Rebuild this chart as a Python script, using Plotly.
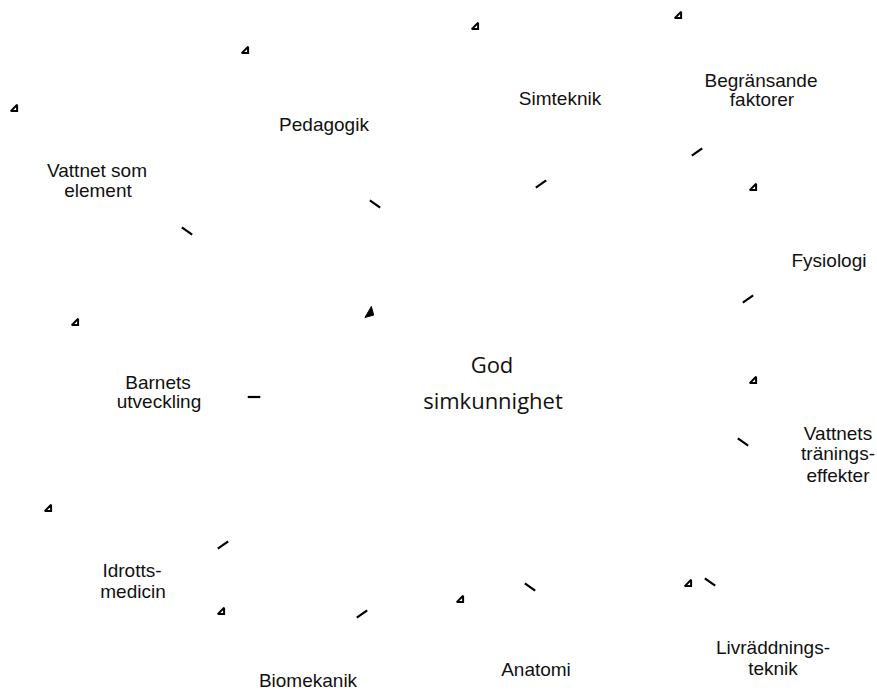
import plotly.graph_objects as go

# Topic labels (one entry per text line) around the central concept
label_lines = ["Pedagogik", "Simteknik", "Begränsande", "faktorer",
               "Vattnet som", "element", "Fysiologi",
               "Barnets", "utveckling",
               "Vattnets", "tränings-", "effekter",
               "Idrotts-", "medicin", "Biomekanik", "Anatomi",
               "Livräddnings-", "teknik"]
line_x = [324, 560, 761, 762, 97, 98, 829, 158, 159, 838, 838, 838,
          132, 133, 308, 536, 773, 773]
line_y = [126, 100, 82, 101, 172, 192, 262, 384, 403, 435, 455, 477,
          572, 593, 682, 671, 649, 670]

center_lines = ["God", "simkunnighet"]
center_x = [492, 493]
center_y = [367, 403]

# Arrow heads (small right triangles)
head_x = [246, 15, 476, 679, 754, 76, 754, 49, 222, 461, 689]
head_y = [51, 109, 27, 16, 188, 323, 381, 509, 612, 600, 584]

# Arrow tails (short strokes) and their tilt in degrees
tail_x = [187, 375, 541, 697, 748, 743, 254, 223, 362, 530, 710]
tail_y = [231, 204, 184, 152, 299, 442, 397, 545, 614, 587, 582]
tail_angle = [35, 35, -35, -35, -35, 35, 0, -35, -35, 35, 35]

# Central blob
blob_x = [370]
blob_y = [313]

fig = go.Figure()

fig.add_trace(go.Scatter(
    x=line_x, y=line_y, text=label_lines, mode="text",
    textposition="middle center", cliponaxis=False,
    textfont=dict(family="Liberation Sans, Arial", size=19, color="#111111"),
    hoverinfo="skip"))

fig.add_trace(go.Scatter(
    x=center_x, y=center_y, text=center_lines, mode="text",
    textposition="middle center", cliponaxis=False,
    textfont=dict(family="Open Sans", size=22, color="#111111"),
    hoverinfo="skip"))

fig.add_trace(go.Scatter(
    x=head_x, y=head_y, mode="markers", cliponaxis=False,
    marker=dict(symbol="triangle-se-open", size=7, color="black",
                line=dict(color="black", width=2)),
    hoverinfo="skip"))

fig.add_trace(go.Scatter(
    x=tail_x, y=tail_y, mode="markers", cliponaxis=False,
    marker=dict(symbol="line-ew-open", size=9, angle=tail_angle, color="black",
                line=dict(color="black", width=2.2)),
    hoverinfo="skip"))

fig.add_trace(go.Scatter(
    x=blob_x, y=blob_y, mode="markers", cliponaxis=False,
    marker=dict(symbol="triangle-se", size=10, color="black", angle=-15,
                line=dict(color="black", width=1)),
    hoverinfo="skip"))

fig.update_layout(
    width=877, height=693,
    margin=dict(l=0, r=0, t=0, b=0),
    paper_bgcolor="white", plot_bgcolor="white",
    showlegend=False,
    xaxis=dict(range=[0, 877], visible=False, fixedrange=True),
    yaxis=dict(range=[693, 0], visible=False, fixedrange=True),
)

fig.write_html("out.html",
               config={"displayModeBar": False, "staticPlot": True},
               post_script="document.body.style.margin='0';"
                           "document.body.style.overflow='hidden';")
